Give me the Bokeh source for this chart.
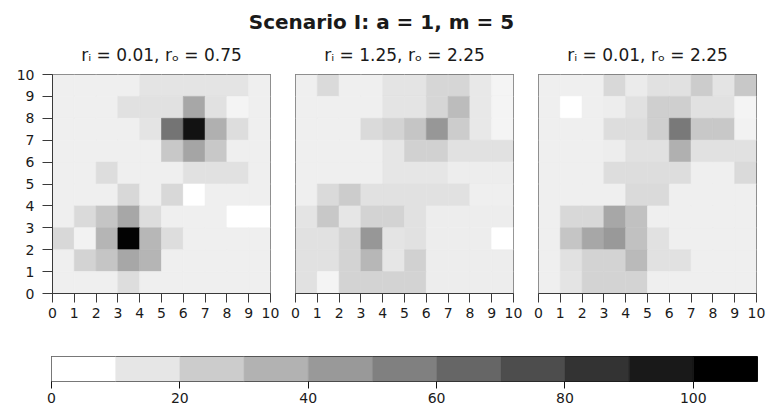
from bokeh.plotting import figure
from bokeh.models import LinearColorMapper, Range1d, FixedTicker, Label, ColumnDataSource
from bokeh.layouts import column, row
from bokeh.embed import file_html
from bokeh.resources import INLINE

# ---------------- data ----------------
title_text = "Scenario I: a = 1, m = 5"
subtitles = ["rᵢ = 0.01, rₒ = 0.75", "rᵢ = 1.25, rₒ = 2.25", "rᵢ = 0.01, rₒ = 2.25"]

x_ticks = [0, 1, 2, 3, 4, 5, 6, 7, 8, 9, 10]
y_ticks = [0, 1, 2, 3, 4, 5, 6, 7, 8, 9, 10]

# rows listed from top (y = 9..10) to bottom (y = 0..1), columns x = 0..9
panel1_rows = [
    [7, 7, 7, 7, 12, 12, 12, 12, 12, 7],
    [7, 7, 7, 13, 13, 13, 38, 13, 5, 7],
    [7, 7, 7, 7, 12, 60, 102, 34, 15, 7],
    [7, 7, 7, 7, 7, 24, 39, 24, 7, 7],
    [7, 7, 15, 7, 7, 7, 13, 13, 13, 7],
    [7, 7, 7, 17, 7, 17, 0, 7, 7, 7],
    [7, 16, 25, 38, 15, 7, 7, 7, 0, 0],
    [17, 6, 32, 109, 31, 15, 7, 7, 7, 7],
    [7, 19, 25, 38, 32, 7, 7, 7, 7, 7],
    [7, 7, 7, 15, 7, 7, 7, 7, 7, 7],
]
panel2_rows = [
    [7, 16, 7, 7, 12, 12, 18, 18, 10, 5],
    [7, 7, 7, 7, 12, 12, 18, 29, 10, 5],
    [7, 7, 7, 16, 19, 25, 45, 22, 10, 5],
    [7, 7, 7, 7, 11, 20, 20, 13, 13, 13],
    [7, 7, 7, 7, 11, 11, 11, 8, 8, 8],
    [7, 16, 22, 13, 13, 13, 13, 13, 7, 7],
    [12, 24, 11, 19, 19, 13, 8, 8, 8, 8],
    [13, 13, 19, 45, 12, 13, 8, 8, 8, 0],
    [13, 13, 19, 31, 11, 20, 8, 8, 8, 8],
    [13, 5, 19, 19, 19, 19, 8, 8, 8, 8],
]
panel3_rows = [
    [7, 7, 7, 17, 9, 13, 13, 22, 12, 24],
    [7, 0, 7, 8, 13, 21, 21, 13, 13, 5],
    [7, 7, 7, 15, 15, 21, 58, 24, 24, 6],
    [7, 7, 7, 8, 13, 13, 34, 13, 13, 13],
    [7, 7, 7, 15, 15, 15, 15, 7, 7, 16],
    [7, 7, 7, 7, 16, 16, 7, 7, 7, 7],
    [7, 17, 17, 38, 27, 7, 7, 7, 7, 7],
    [7, 25, 38, 44, 27, 13, 7, 7, 7, 7],
    [7, 13, 19, 19, 30, 13, 13, 7, 7, 7],
    [7, 12, 19, 19, 19, 7, 7, 7, 7, 7],
]

legend_breaks = [0, 10, 20, 30, 40, 50, 60, 70, 80, 90, 100, 110]
legend_ticks = [0, 20, 40, 60, 80, 100]

# ---------------- style ----------------
FONT = "DejaVu Sans"
TXT = "#1a1a1a"
LINE = "#3a3a3a"
grey256 = ["#%02x%02x%02x" % (g, g, g) for g in range(255, -1, -1)]
grey11 = ["#%02x%02x%02x" % ((round(255 * (1 - i / 10)),) * 3) for i in range(11)]
cont_mapper = LinearColorMapper(palette=grey256, low=0, high=110)
step_mapper = LinearColorMapper(palette=grey11, low=0, high=110)


def grid_source(rows):
    xs, ys, vs = [], [], []
    n = len(rows)
    for r, vals in enumerate(rows):
        for c, v in enumerate(vals):
            xs.append(c + 0.5)
            ys.append(n - 1 - r + 0.5)
            vs.append(v)
    return ColumnDataSource(dict(x=xs, y=ys, v=vs))


def style_axis(ax, tick_out):
    ax.ticker = FixedTicker(ticks=x_ticks)
    ax.minor_tick_line_color = None
    ax.major_tick_in = 0
    ax.major_tick_out = tick_out
    ax.axis_line_color = LINE
    ax.major_tick_line_color = LINE
    ax.major_label_text_font = FONT
    ax.major_label_text_font_size = "14px"
    ax.major_label_text_color = TXT


def panel(rows, width, left, right, show_y):
    p = figure(width=width, height=266, x_range=Range1d(0, 10), y_range=Range1d(0, 10),
               output_backend="svg", toolbar_location=None,
               y_axis_location="left" if show_y else None,
               min_border_left=left, min_border_right=right,
               min_border_top=10, min_border_bottom=37)
    src = grid_source(rows)
    p.rect(x="x", y="y", width=1, height=1, source=src,
           fill_color={"field": "v", "transform": cont_mapper},
           line_color={"field": "v", "transform": cont_mapper}, line_width=0.6)
    p.grid.visible = False
    p.outline_line_color = LINE
    p.outline_line_width = 1
    p.outline_line_alpha = 1
    style_axis(p.xaxis[0], 9)
    p.xaxis[0].major_label_standoff = 5
    if show_y:
        style_axis(p.yaxis[0], 10)
        p.yaxis[0].ticker = FixedTicker(ticks=y_ticks)
        p.yaxis[0].major_label_standoff = 8
    return p


p1 = panel(panel1_rows, 282, 52, 12, True)
p2 = panel(panel2_rows, 243, 13, 12, False)
p3 = panel(panel3_rows, 243, 13, 12, False)

# title strip (main title + panel titles); frame aligned with the legend frame,
# x range in page pixels
pt = figure(width=768, height=64, x_range=Range1d(51, 757), y_range=Range1d(0, 64),
            output_backend="svg", toolbar_location=None,
            min_border_left=51, min_border_right=11, min_border_top=0, min_border_bottom=0,
            x_axis_location=None, y_axis_location=None)
pt.grid.visible = False
pt.outline_line_color = None
pt.add_layout(Label(x=381, y=43, text=title_text, text_align="center",
                    text_baseline="alphabetic", text_font=FONT, text_font_style="bold",
                    text_font_size="20px", text_color=TXT))
for cx, sub in zip([161, 404, 647], subtitles):
    pt.add_layout(Label(x=cx, y=10, text=sub, text_align="center",
                        text_baseline="alphabetic", text_font=FONT,
                        text_font_size="17px", text_color=TXT))

# colour legend
pc = figure(width=768, height=80, x_range=Range1d(0, 110), y_range=Range1d(0, 1),
            output_backend="svg", toolbar_location=None, y_axis_location=None,
            min_border_left=51, min_border_right=11, min_border_top=26, min_border_bottom=29)
mids = [(a + b) / 2 for a, b in zip(legend_breaks[:-1], legend_breaks[1:])]
csrc = ColumnDataSource(dict(left=legend_breaks[:-1], right=legend_breaks[1:], m=mids))
pc.quad(left="left", right="right", bottom=0, top=1, source=csrc,
        fill_color={"field": "m", "transform": step_mapper},
        line_color={"field": "m", "transform": step_mapper}, line_width=0.5)
pc.grid.visible = False
pc.outline_line_color = "#111111"
pc.outline_line_width = 1
pc.outline_line_alpha = 1
ax = pc.xaxis[0]
style_axis(ax, 7)
ax.ticker = FixedTicker(ticks=legend_ticks)
ax.axis_line_color = None
ax.major_tick_line_color = "#111111"
ax.major_label_standoff = 4

layout = column(pt, row(p1, p2, p3), pc)
open("out.html", "w").write(file_html(layout, INLINE))
